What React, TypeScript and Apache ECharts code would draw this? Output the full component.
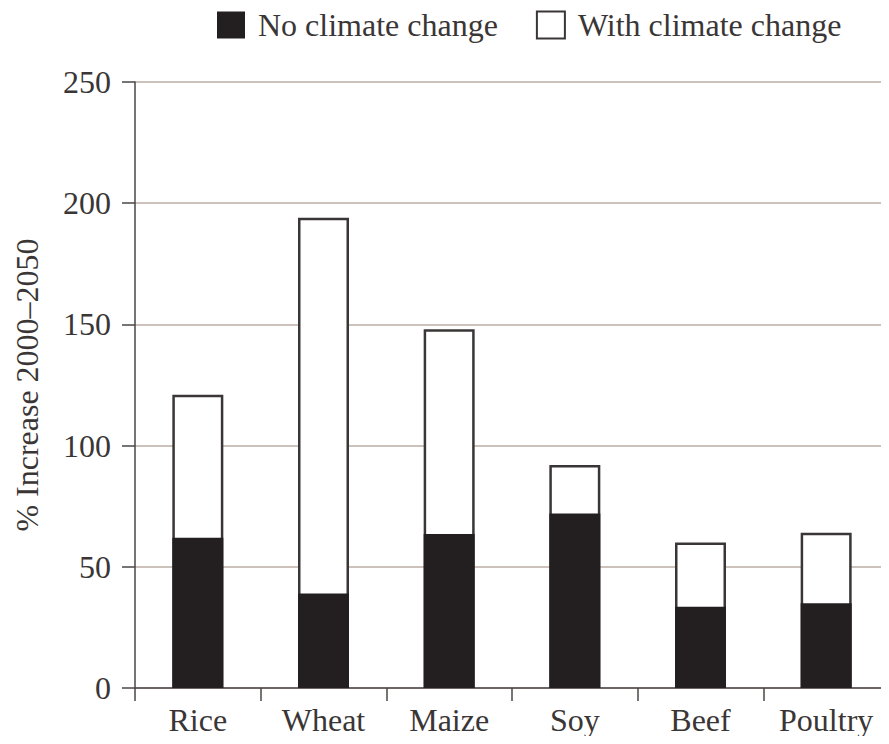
import React, { useEffect, useRef } from "react";
import * as echarts from "echarts";

const categories = ["Rice", "Wheat", "Maize", "Soy", "Beef", "Poultry"];
const noClimateChange = [62, 39, 63.5, 72, 33.5, 35];
const withClimateChange = [121, 194, 148, 92, 60, 64];
const seriesNames = ["No climate change", "With climate change"];
const yAxisName = "% Increase 2000–2050";

const FONT = "'Liberation Serif', 'Times New Roman', serif";
const TEXT_COLOR = "#3a3636";
const AXIS_COLOR = "#4a4646";

export default function App() {
  const ref = useRef<HTMLDivElement>(null);
  useEffect(() => {
    if (!ref.current) return;
    const chart = echarts.init(ref.current, undefined, { renderer: "svg" });
    chart.setOption({
      animation: false,
      backgroundColor: "#ffffff",
      textStyle: { fontFamily: FONT },
      legend: {
        data: [seriesNames[0], seriesNames[1]],
        left: 217,
        top: 9,
        padding: 0,
        itemWidth: 28,
        itemHeight: 27,
        itemGap: 38,
        icon: "rect",
        textStyle: {
          fontFamily: FONT,
          fontSize: 32,
          color: TEXT_COLOR,
          padding: [0, 0, 0, 8],
        },
      },
      grid: { left: 135, right: -4, top: 82, bottom: 56, containLabel: false },
      xAxis: {
        type: "category",
        data: categories,
        axisLine: { lineStyle: { color: AXIS_COLOR, width: 1.5 } },
        axisTick: { show: true, length: 13, lineStyle: { color: AXIS_COLOR, width: 1.5 } },
        axisLabel: { fontFamily: FONT, fontSize: 32, color: TEXT_COLOR, margin: 16 },
        splitLine: { show: false },
      },
      yAxis: {
        type: "value",
        min: 0,
        max: 250,
        interval: 50,
        name: yAxisName,
        nameLocation: "middle",
        nameGap: 92,
        nameRotate: 90,
        nameTextStyle: { fontFamily: FONT, fontSize: 32, color: TEXT_COLOR },
        axisLine: { show: true, lineStyle: { color: AXIS_COLOR, width: 1.5 } },
        axisTick: { show: true, length: 13, lineStyle: { color: AXIS_COLOR, width: 1.5 } },
        axisLabel: { fontFamily: FONT, fontSize: 32, color: TEXT_COLOR, margin: 24 },
        splitLine: { show: true, lineStyle: { color: "#cdc2bb", width: 2 } },
      },
      series: [
        {
          name: seriesNames[0],
          type: "bar",
          data: noClimateChange,
          barWidth: 51,
          barGap: "-100%",
          z: 3,
          itemStyle: { color: "#231f20" },
        },
        {
          name: seriesNames[1],
          type: "bar",
          data: withClimateChange,
          barWidth: 51,
          barGap: "-100%",
          z: 2,
          itemStyle: { color: "#ffffff", borderColor: "#3a3636", borderWidth: 2.5 },
        },
      ],
    });
    return () => chart.dispose();
  }, []);
  return <div ref={ref} style={{ width: 889, height: 744, margin: -8 }} />;
}
